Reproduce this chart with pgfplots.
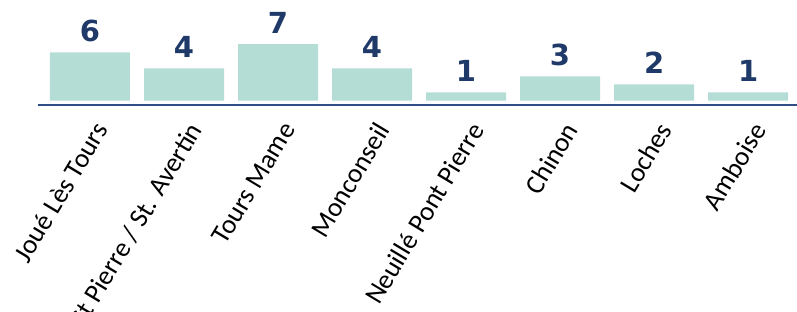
\documentclass[border=0pt]{standalone}
\usepackage{pgfplots}
\pgfplotsset{compat=1.18}
\usepackage{fontspec}
\setmainfont{Carlito}
\newfontfamily\numfont{DejaVu Sans}
\definecolor{barc}{HTML}{B4DDD6}
\definecolor{navy}{HTML}{1F3A68}
\definecolor{axc}{HTML}{2F4E85}
\begin{document}
\begin{tikzpicture}
\begin{axis}[name=ax, scale only axis, width=759pt, height=105pt,
  xmin=-0.553, xmax=7.52, ymin=-0.56, ymax=12.5,
  axis x line*=bottom, axis y line=none,
  axis line style={draw=axc, line width=2pt},
  xtick={0,1,2,3,4,5,6,7},
  xticklabels={Joué Lès Tours, St Pierre / St. Avertin, Tours Mame, Monconseil, Neuillé Pont Pierre, Chinon, Loches, Amboise},
  major tick length=0pt,
  x tick label style={xshift=3pt, yshift=-15pt, rotate=59, anchor=north east, font=\fontsize{27}{27}\selectfont, text=black, inner sep=0pt},
  /pgf/number format/assume math mode=true,
  ybar, bar width=80pt,
  nodes near coords,
  every node near coord/.append style={font=\numfont\bfseries\fontsize{29}{29}\selectfont, text=navy, yshift=7pt},
  clip=false,
]
\addplot[fill=barc, draw=none] coordinates {(0,6) (1,4) (2,7) (3,4) (4,1) (5,3) (6,2) (7,1)};
\end{axis}
\pgfresetboundingbox
\path ([shift={(-38pt,-206pt)}]ax.south west) rectangle (ax.north east);
\end{tikzpicture}
\end{document}
